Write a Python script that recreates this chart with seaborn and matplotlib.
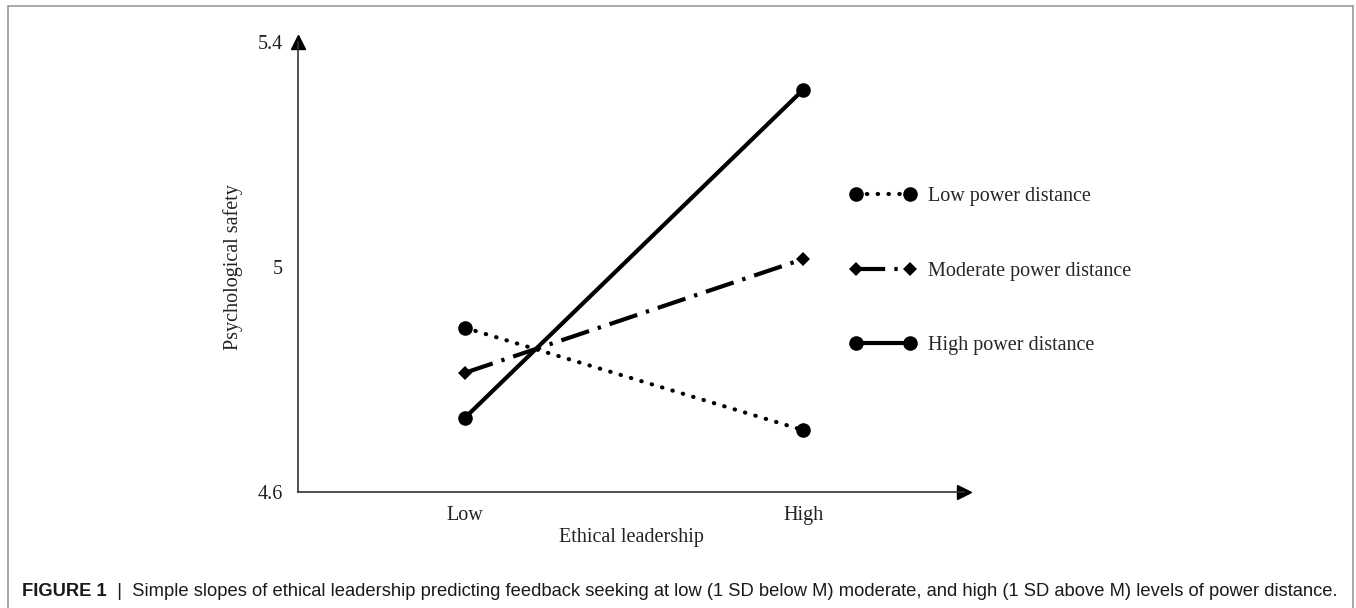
import pandas as pd
import matplotlib.pyplot as plt
import seaborn as sns
from matplotlib.lines import Line2D

# Values
levels = ["Low", "High"]
level_pos = [0, 1]
low_pd = [4.892, 4.710]
moderate_pd = [4.812, 5.014]
high_pd = [4.732, 5.315]
group_names = ["Low power distance", "Moderate power distance", "High power distance"]
y_ticks = [4.6, 5.0, 5.4]
y_tick_labels = ["4.6", "5", "5.4"]
caption_bold = "FIGURE 1"
caption_rest = ("  |  Simple slopes of ethical leadership predicting feedback seeking at low "
                "(1 SD below M) moderate, and high (1 SD above M) levels of power distance.")

sns.set_style("white")
plt.rcParams["font.family"] = ["Liberation Serif", "DejaVu Serif"]

W, H = 1356, 608
fig = plt.figure(figsize=(W / 100, H / 100), dpi=100)
ax = fig.add_axes([298 / W, 1 - 492 / H, (964 - 298) / W, (492 - 42) / H])

# Draw the three slopes
styles = [
    dict(marker="o", markersize=10.5, linestyle=(0, (0.1, 2.5))),
    dict(marker="D", markersize=7.5, linestyle=(0, (7, 2.2, 0.8, 2.2))),
    dict(marker="o", markersize=10.5, linestyle="-"),
]
for name, vals, st in zip(group_names, [low_pd, moderate_pd, high_pd], styles):
    df = pd.DataFrame({"level": level_pos, "value": vals})
    sns.lineplot(data=df, x="level", y="value", ax=ax, color="black", linewidth=3,
                 markeredgewidth=0, label=name, **st)
ax.lines[0].set_dash_capstyle("round")

ax.set_xlim(-0.494, 1.476)
ax.set_ylim(4.6, 5.4)
ax.set_xticks(level_pos)
ax.set_xticklabels(levels)
ax.set_yticks(y_ticks)
ax.set_yticklabels(y_tick_labels)
ax.tick_params(axis="both", length=0, labelsize=14.5, colors="#222222")
ax.tick_params(axis="y", pad=11)
ax.tick_params(axis="x", pad=10)
ax.set_xlabel("Ethical leadership", fontsize=14.5, labelpad=2, color="#222222")
ax.set_ylabel("Psychological safety", fontsize=14.5, labelpad=10, color="#222222")

for side in ["top", "right"]:
    ax.spines[side].set_visible(False)
for side in ["left", "bottom"]:
    ax.spines[side].set_color("#333333")
    ax.spines[side].set_linewidth(1.2)

# arrow heads
ax.plot([0], [1], marker="^", markersize=10, color="black", transform=ax.transAxes, clip_on=False)
ax.plot([1], [0], marker=">", markersize=10, color="black", transform=ax.transAxes, clip_on=False)

leg = ax.legend(loc="upper left", bbox_to_anchor=(850 / W, 1 - 187 / H),
                bbox_transform=fig.transFigure, frameon=False, fontsize=14.5,
                handlelength=3.3, handletextpad=0.55, labelspacing=2.75,
                borderpad=0, borderaxespad=0, numpoints=2)
for h in leg.get_lines():
    h.set_dash_capstyle("round") if h.get_linestyle() == ":" else None
leg.get_lines()[0].set_dash_capstyle("round")

# border frame
fig.add_artist(Line2D([8 / W, 8 / W], [0, 1 - 6 / H], color="#9a9a9a", lw=1.2))
fig.add_artist(Line2D([8 / W, 1353 / W], [1 - 6 / H, 1 - 6 / H], color="#9a9a9a", lw=1.2))
fig.add_artist(Line2D([1353 / W, 1353 / W], [0, 1 - 6 / H], color="#9a9a9a", lw=1.2))

# caption
fig.canvas.draw()
r = fig.canvas.get_renderer()
fs = 14
t1 = fig.text(22 / W, 1 - 591 / H, caption_bold, fontsize=fs, fontweight="bold",
              family="Liberation Sans", va="center", color="#1a1a1a")
bb = t1.get_window_extent(r)
t2 = fig.text(bb.x1 / W, 1 - 591 / H, caption_rest, fontsize=fs,
              family="Liberation Sans", va="center", color="#1a1a1a")
bb2 = t2.get_window_extent(r)
scale = (1345 - 22) / (bb2.x1 - bb.x0)
fs = fs * scale
t1.set_fontsize(fs)
bb = t1.get_window_extent(r)
t2.set_fontsize(fs)
t2.set_x(bb.x1 / W)

fig.savefig("out.png", dpi=100)
